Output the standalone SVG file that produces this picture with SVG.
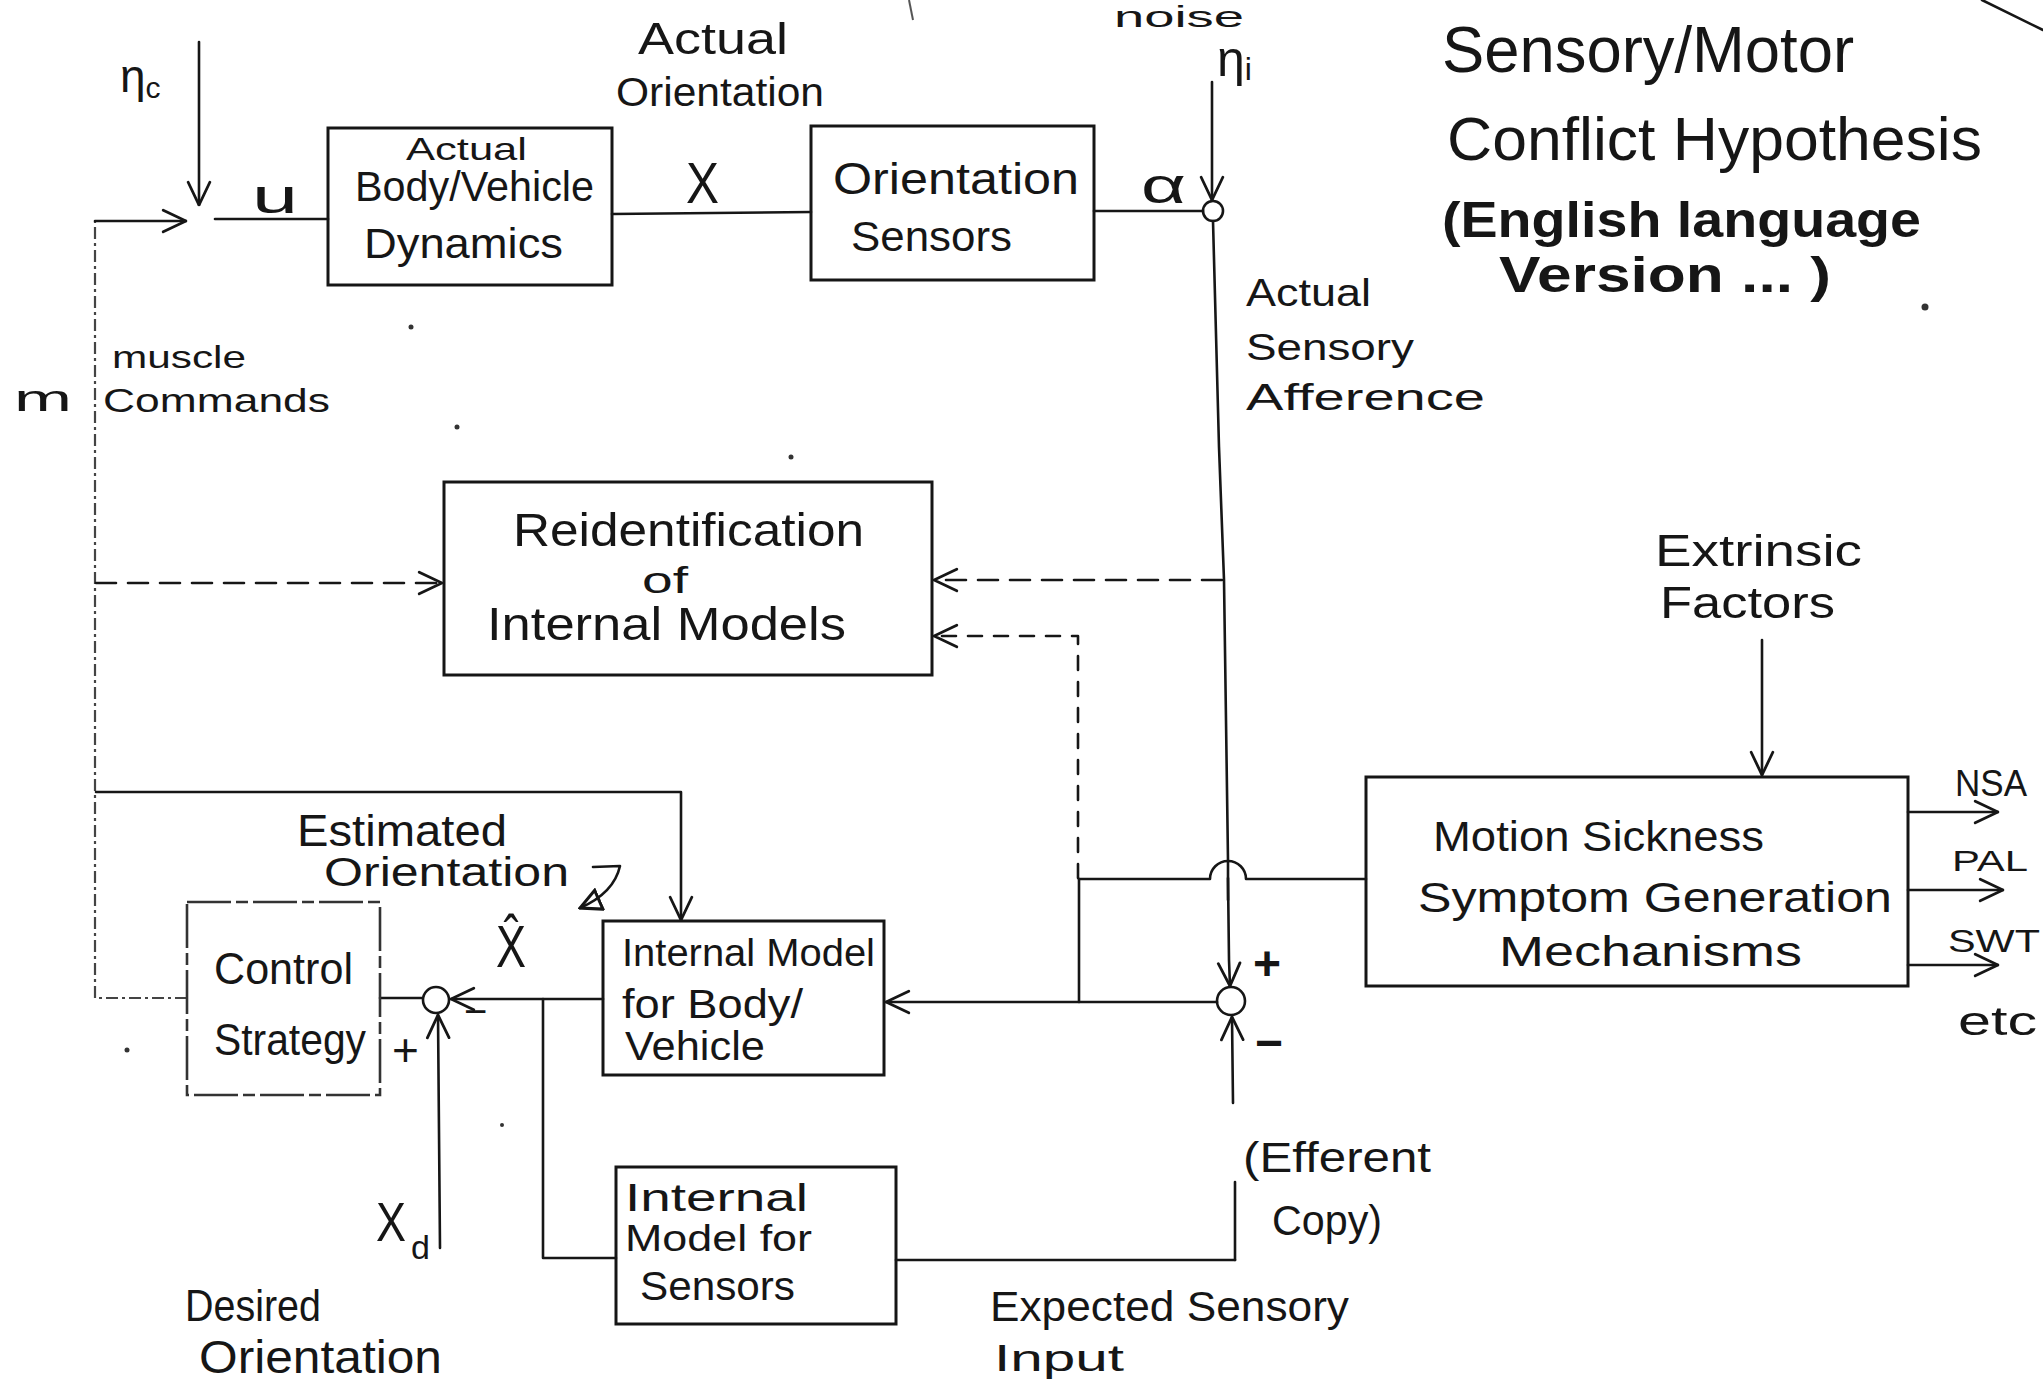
<svg xmlns="http://www.w3.org/2000/svg" width="2043" height="1382" viewBox="0 0 2043 1382">
<style>
text{font-family:"Liberation Sans",Arial,sans-serif;fill:#161616}
.ln{stroke:#161616;stroke-width:2.6;fill:none;stroke-linecap:round;stroke-linejoin:round}
.box{stroke:#161616;stroke-width:3;fill:none}
.dash{stroke-dasharray:20 12}
.dashs{stroke-dasharray:14 12}
.dd{stroke:#444;stroke-width:2.2;fill:none;stroke-dasharray:12 4 3 4}
.faint{stroke:#333;stroke-width:2.6;fill:none;stroke-dasharray:44 5 12 5}
.speck{fill:#333}
</style>
<defs>
<marker id="arr" viewBox="0 0 24 24" refX="23" refY="12" markerWidth="26" markerHeight="26" markerUnits="userSpaceOnUse" orient="auto">
<path d="M2,2 L23,12 L2,22" fill="none" stroke="#161616" stroke-width="2.6" stroke-linecap="round"/>
</marker>
<marker id="tri" viewBox="0 0 14 14" refX="13" refY="7" markerWidth="24" markerHeight="24" markerUnits="userSpaceOnUse" orient="auto">
<path d="M1,1 L13,7 L1,13 Z" fill="none" stroke="#161616" stroke-width="1.8"/>
</marker>
</defs>
<rect width="2043" height="1382" fill="#fff"/>

<g id="title">
<text x="1442" y="72" font-size="64" textLength="412" lengthAdjust="spacingAndGlyphs">Sensory/Motor</text>
<text x="1447" y="160" font-size="62" textLength="535" lengthAdjust="spacingAndGlyphs">Conflict Hypothesis</text>
<text x="1442" y="237" font-size="50" font-weight="bold" textLength="479" lengthAdjust="spacingAndGlyphs">(English language</text>
<text x="1499" y="292" font-size="50" font-weight="bold" textLength="332" lengthAdjust="spacingAndGlyphs">Version ... )</text>
</g>

<g id="connectors">
<line class="ln" x1="199" y1="42" x2="199" y2="205" marker-end="url(#arr)"/>
<path class="dd" d="M187,998 H95 V221"/>
<line class="ln" x1="95" y1="221" x2="186" y2="221" marker-end="url(#arr)"/>
<line class="ln" x1="215" y1="219" x2="328" y2="219"/>
<line class="ln" x1="612" y1="214" x2="811" y2="212"/>
<line class="ln" x1="1094" y1="211" x2="1203" y2="211"/>
<line class="ln" x1="1212" y1="82" x2="1212" y2="200" marker-end="url(#arr)"/>
<circle class="ln" cx="1213" cy="211" r="10"/>
<polyline class="ln" points="1213,221 1219,447 1224,580 1228,860 1228,900"/>
<polyline class="ln" points="1228,878 1229,960 1230,986" marker-end="url(#arr)"/>
<line class="ln dash" x1="1222" y1="580" x2="934" y2="580" marker-end="url(#arr)"/>
<path class="ln dashs" d="M1078,878 V636 H934" marker-end="url(#arr)"/>
<line class="ln dash" x1="96" y1="583" x2="442" y2="583" marker-end="url(#arr)"/>
<path class="ln" d="M1079,879 H1210 A18,18 0 0 1 1246,879 H1366"/>
<line class="ln" x1="1079" y1="879" x2="1079" y2="1002"/>
<circle class="ln" cx="1231" cy="1001" r="14"/>
<line class="ln" x1="1217" y1="1002" x2="886" y2="1002" marker-end="url(#arr)"/>
<line class="ln" x1="896" y1="1260" x2="1235" y2="1260"/>
<line class="ln" x1="1235" y1="1260" x2="1235" y2="1182"/>
<line class="ln" x1="1233" y1="1103" x2="1232" y2="1017" marker-end="url(#arr)"/>
<line class="ln" x1="1762" y1="640" x2="1762" y2="775" marker-end="url(#arr)"/>
<line class="ln" x1="1908" y1="812" x2="1998" y2="812" marker-end="url(#arr)"/>
<line class="ln" x1="1908" y1="890" x2="2003" y2="890" marker-end="url(#arr)"/>
<line class="ln" x1="1908" y1="965" x2="1998" y2="965" marker-end="url(#arr)"/>
<path class="ln" d="M96,792 H681 V920" marker-end="url(#arr)"/>
<line class="ln" x1="603" y1="999" x2="451" y2="999" marker-end="url(#arr)"/>
<path class="ln" d="M543,999 V1258 H616"/>
<line class="ln" x1="380" y1="998" x2="422" y2="998"/>
<circle class="ln" cx="436" cy="1000" r="13"/>
<line class="ln" x1="440" y1="1248" x2="438" y2="1015" marker-end="url(#arr)"/>
<path class="ln" d="M593,867 L620,866 Q614,893 580,908" marker-end="url(#tri)"/>
</g>

<g id="node-dynamics">
<rect class="box" x="328" y="128" width="284" height="157"/>
<text x="406" y="160" font-size="32" textLength="121" lengthAdjust="spacingAndGlyphs">Actual</text>
<text x="355" y="201" font-size="42" textLength="239" lengthAdjust="spacingAndGlyphs">Body/Vehicle</text>
<text x="364" y="258" font-size="42" textLength="199" lengthAdjust="spacingAndGlyphs">Dynamics</text>
</g>

<g id="node-sensors">
<rect class="box" x="811" y="126" width="283" height="154"/>
<text x="833" y="194" font-size="44" textLength="246" lengthAdjust="spacingAndGlyphs">Orientation</text>
<text x="851" y="251" font-size="42" textLength="161" lengthAdjust="spacingAndGlyphs">Sensors</text>
</g>

<g id="node-reident">
<rect class="box" x="444" y="482" width="488" height="193"/>
<text x="513" y="546" font-size="46" textLength="351" lengthAdjust="spacingAndGlyphs">Reidentification</text>
<text x="642" y="593" font-size="36" textLength="46" lengthAdjust="spacingAndGlyphs">of</text>
<text x="487" y="640" font-size="46" textLength="359" lengthAdjust="spacingAndGlyphs">Internal Models</text>
</g>

<g id="node-motion-sickness">
<rect class="box" x="1366" y="777" width="542" height="209"/>
<text x="1433" y="851" font-size="42" textLength="331" lengthAdjust="spacingAndGlyphs">Motion Sickness</text>
<text x="1418" y="912" font-size="42" textLength="474" lengthAdjust="spacingAndGlyphs">Symptom Generation</text>
<text x="1499" y="966" font-size="42" textLength="303" lengthAdjust="spacingAndGlyphs">Mechanisms</text>
</g>

<g id="node-control">
<rect class="faint" x="187" y="902" width="193" height="193"/>
<text x="214" y="984" font-size="44" textLength="139" lengthAdjust="spacingAndGlyphs">Control</text>
<text x="214" y="1055" font-size="44" textLength="152" lengthAdjust="spacingAndGlyphs">Strategy</text>
</g>

<g id="node-internal-body">
<rect class="box" x="603" y="921" width="281" height="154"/>
<text x="622" y="966" font-size="38" textLength="253" lengthAdjust="spacingAndGlyphs">Internal Model</text>
<text x="622" y="1018" font-size="40" textLength="181" lengthAdjust="spacingAndGlyphs">for Body/</text>
<text x="625" y="1060" font-size="40" textLength="140" lengthAdjust="spacingAndGlyphs">Vehicle</text>
</g>

<g id="node-internal-sensors">
<rect class="box" x="616" y="1167" width="280" height="157"/>
<text x="625" y="1211" font-size="38" textLength="183" lengthAdjust="spacingAndGlyphs">Internal</text>
<text x="625" y="1251" font-size="36" textLength="187" lengthAdjust="spacingAndGlyphs">Model for</text>
<text x="640" y="1300" font-size="40" textLength="155" lengthAdjust="spacingAndGlyphs">Sensors</text>
</g>

<g id="labels">
<text x="120" y="92" font-size="46">η<tspan font-size="30" dy="6">c</tspan></text>
<text x="252" y="213" font-size="48" textLength="46" lengthAdjust="spacingAndGlyphs">u</text>
<text x="638" y="54" font-size="44" textLength="150" lengthAdjust="spacingAndGlyphs">Actual</text>
<text x="616" y="106" font-size="40" textLength="208" lengthAdjust="spacingAndGlyphs">Orientation</text>
<text x="686" y="203" font-size="58" textLength="33" lengthAdjust="spacingAndGlyphs">X</text>
<text x="1141" y="203" font-size="50" textLength="45" lengthAdjust="spacingAndGlyphs">α</text>
<text x="1114" y="27" font-size="30" textLength="130" lengthAdjust="spacingAndGlyphs">noise</text>
<text x="1217" y="76" font-size="50">η<tspan font-size="32" dy="4">i</tspan></text>
<text x="1246" y="306" font-size="38" textLength="125" lengthAdjust="spacingAndGlyphs">Actual</text>
<text x="1246" y="360" font-size="36" textLength="168" lengthAdjust="spacingAndGlyphs">Sensory</text>
<text x="1246" y="410" font-size="36" textLength="239" lengthAdjust="spacingAndGlyphs">Afference</text>
<text x="112" y="368" font-size="32" textLength="134" lengthAdjust="spacingAndGlyphs">muscle</text>
<text x="103" y="412" font-size="34" textLength="227" lengthAdjust="spacingAndGlyphs">Commands</text>
<text x="14" y="411" font-size="36" textLength="58" lengthAdjust="spacingAndGlyphs">m</text>
<text x="1655" y="566" font-size="44" textLength="207" lengthAdjust="spacingAndGlyphs">Extrinsic</text>
<text x="1660" y="618" font-size="44" textLength="175" lengthAdjust="spacingAndGlyphs">Factors</text>
<text x="1955" y="796" font-size="36" textLength="72" lengthAdjust="spacingAndGlyphs">NSA</text>
<text x="1952" y="871" font-size="30" textLength="76" lengthAdjust="spacingAndGlyphs">PAL</text>
<text x="1948" y="952" font-size="32" textLength="92" lengthAdjust="spacingAndGlyphs">SWT</text>
<text x="1958" y="1035" font-size="40" textLength="79" lengthAdjust="spacingAndGlyphs">etc</text>
<text x="297" y="846" font-size="44" textLength="210" lengthAdjust="spacingAndGlyphs">Estimated</text>
<text x="324" y="886" font-size="40" textLength="245" lengthAdjust="spacingAndGlyphs">Orientation</text>
<text x="496" y="967" font-size="60" textLength="30" lengthAdjust="spacingAndGlyphs">X̂</text>
<text x="392" y="1066" font-size="46">+</text>
<text x="464" y="1025" font-size="40">−</text>
<text x="376" y="1241" font-size="56" textLength="30" lengthAdjust="spacingAndGlyphs">X</text>
<text x="411" y="1259" font-size="34">d</text>
<text x="185" y="1321" font-size="44" textLength="136" lengthAdjust="spacingAndGlyphs">Desired</text>
<text x="199" y="1373" font-size="46" textLength="243" lengthAdjust="spacingAndGlyphs">Orientation</text>
<text x="1253" y="980" font-size="48" font-weight="bold">+</text>
<text x="1255" y="1059" font-size="48" font-weight="bold">−</text>
<text x="1243" y="1172" font-size="42" textLength="188" lengthAdjust="spacingAndGlyphs">(Efferent</text>
<text x="1272" y="1235" font-size="42" textLength="110" lengthAdjust="spacingAndGlyphs">Copy)</text>
<text x="990" y="1321" font-size="42" textLength="359" lengthAdjust="spacingAndGlyphs">Expected Sensory</text>
<text x="994" y="1371" font-size="36" textLength="130" lengthAdjust="spacingAndGlyphs">Input</text>
</g>

<g id="marks">
<line class="ln" x1="1982" y1="0" x2="2043" y2="30"/>
<line x1="909" y1="0" x2="913" y2="20" stroke="#555" stroke-width="2"/>
<circle class="speck" cx="1925" cy="307" r="3.5"/>
<circle class="speck" cx="791" cy="457" r="2.5"/>
<circle class="speck" cx="411" cy="327" r="2.5"/>
<circle class="speck" cx="457" cy="427" r="2.5"/>
<circle class="speck" cx="127" cy="1050" r="2.5"/>
<circle class="speck" cx="502" cy="1125" r="2"/>
</g>
</svg>
